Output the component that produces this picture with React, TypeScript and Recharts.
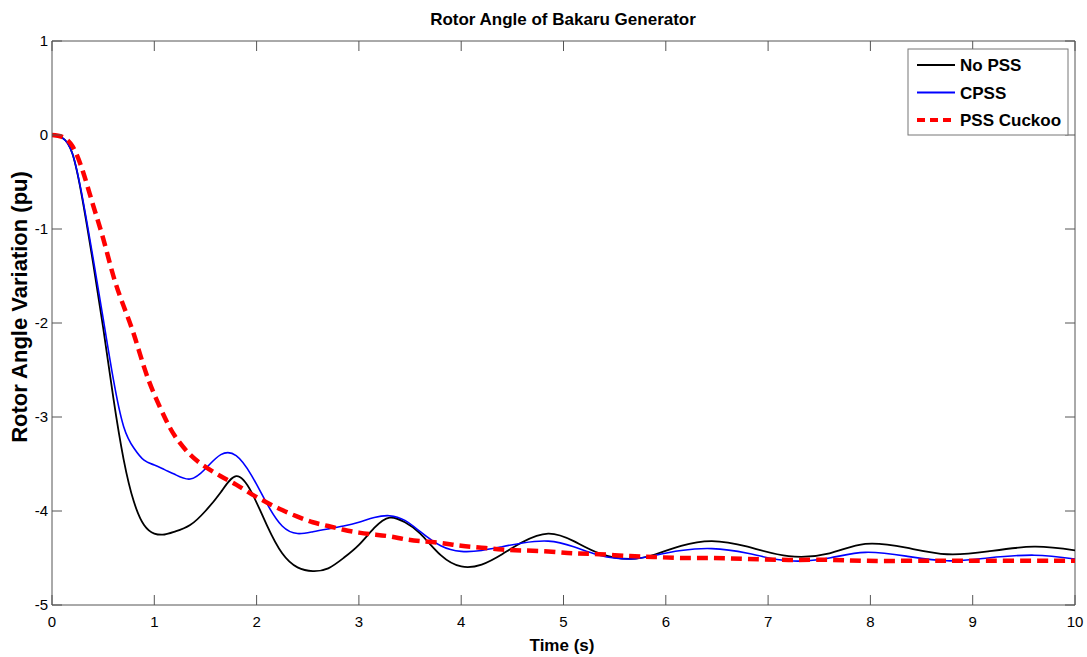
import { LineChart, Line, XAxis, YAxis, ReferenceLine } from 'recharts';

const TIME = [
  0, 0.1, 0.2, 0.3, 0.4, 0.5, 0.6, 0.7, 0.8, 0.9, 1.0, 1.1, 1.2, 1.35, 1.5, 1.65, 1.8, 1.95, 2.1, 2.25,
  2.4, 2.55, 2.7, 2.85, 3.0, 3.15, 3.3, 3.45, 3.6, 3.8, 4.0, 4.2, 4.4, 4.6, 4.85, 5.1, 5.35, 5.65, 5.9, 6.15,
  6.45, 6.8, 7.2, 7.6, 7.95, 8.35, 8.75, 9.15, 9.6, 10,
];

const NO_PSS = [
  0, -0.03, -0.2, -0.7, -1.35, -2.05, -2.8, -3.45, -3.9, -4.15, -4.24, -4.25, -4.22, -4.15, -4.0, -3.8, -3.63, -3.8, -4.15, -4.45,
  -4.6, -4.64, -4.61, -4.5, -4.36, -4.18, -4.07, -4.12, -4.24, -4.47, -4.59, -4.57, -4.46, -4.33, -4.24, -4.32, -4.45, -4.51, -4.46, -4.37,
  -4.32, -4.38, -4.48, -4.45, -4.35, -4.39, -4.46, -4.43, -4.38, -4.42,
];

const CPSS = [
  0, -0.03, -0.2, -0.68, -1.3, -1.95, -2.6, -3.1, -3.33, -3.46, -3.51, -3.56, -3.61, -3.66, -3.55, -3.4, -3.41, -3.62, -3.92, -4.16,
  -4.24, -4.22, -4.19, -4.16, -4.12, -4.07, -4.05, -4.1, -4.22, -4.37, -4.43, -4.42, -4.38, -4.34, -4.32, -4.38, -4.47, -4.51, -4.47, -4.42,
  -4.4, -4.45, -4.53, -4.5, -4.44, -4.48, -4.53, -4.5, -4.47, -4.51,
];

const PSS_CUCKOO = [
  0, -0.02, -0.12, -0.38, -0.74, -1.1, -1.5, -1.82, -2.12, -2.47, -2.76, -3.0, -3.2, -3.4, -3.53, -3.63, -3.72, -3.82, -3.91, -3.99,
  -4.06, -4.12, -4.16, -4.2, -4.23, -4.25, -4.27, -4.3, -4.32, -4.34, -4.37, -4.39, -4.41, -4.42, -4.43, -4.45, -4.46, -4.48, -4.49, -4.5,
  -4.5, -4.51, -4.52, -4.52, -4.53, -4.53, -4.53, -4.53, -4.53, -4.53,
];

const X_TICKS = [0, 1, 2, 3, 4, 5, 6, 7, 8, 9, 10];
const Y_TICKS = [-5, -4, -3, -2, -1, 0, 1];

const SERIES = [
  { key: 'noPss', name: 'No PSS', color: '#000000', width: 1.8, dash: undefined as string | undefined },
  { key: 'cpss', name: 'CPSS', color: '#0000ff', width: 1.6, dash: undefined as string | undefined },
  { key: 'cuckoo', name: 'PSS Cuckoo', color: '#ff0000', width: 4.5, dash: '11 6' },
];

const data = TIME.map((t, i) => ({ t, noPss: NO_PSS[i], cpss: CPSS[i], cuckoo: PSS_CUCKOO[i] }));

const W = 1087;
const H = 657;
const LEFT = 52;
const RIGHT = 1075;
const TOP = 41;
const BOTTOM = 605;
const AXIS = '#555555';
const FONT = '"Liberation Sans", Arial, sans-serif';

function XTick(props: any) {
  const { x, payload } = props;
  return (
    <g>
      <line x1={x} x2={x} y1={BOTTOM} y2={BOTTOM - 10} stroke={AXIS} />
      <line x1={x} x2={x} y1={TOP} y2={TOP + 10} stroke={AXIS} />
      <text x={x} y={BOTTOM + 22} textAnchor="middle" fontSize={15} fontFamily={FONT} fill="#000">
        {payload.value}
      </text>
    </g>
  );
}

function YTick(props: any) {
  const { y, payload } = props;
  return (
    <g>
      <line x1={LEFT} x2={LEFT + 10} y1={y} y2={y} stroke={AXIS} />
      <line x1={RIGHT} x2={RIGHT - 10} y1={y} y2={y} stroke={AXIS} />
      <text x={LEFT - 4} y={y + 5} textAnchor="end" fontSize={15} fontFamily={FONT} fill="#000">
        {payload.value}
      </text>
    </g>
  );
}

export default function App() {
  return (
    <div style={{ position: 'absolute', left: 0, top: 0, width: W, height: H, background: '#fff' }}>
      <LineChart width={W} height={H} data={data} margin={{ top: TOP, right: W - RIGHT, bottom: 0, left: 0 }}>
        <XAxis
          dataKey="t"
          type="number"
          domain={[0, 10]}
          ticks={X_TICKS}
          tick={<XTick />}
          tickLine={false}
          axisLine={{ stroke: AXIS }}
          height={H - BOTTOM}
          allowDataOverflow
        />
        <YAxis
          type="number"
          domain={[-5, 1]}
          ticks={Y_TICKS}
          tick={<YTick />}
          tickLine={false}
          axisLine={{ stroke: AXIS }}
          width={LEFT}
          allowDataOverflow
        />
        <ReferenceLine y={1} stroke={AXIS} />
        <ReferenceLine x={10} stroke={AXIS} />
        {SERIES.map((s) => (
          <Line
            key={s.key}
            dataKey={s.key}
            name={s.name}
            type="natural"
            stroke={s.color}
            strokeWidth={s.width}
            strokeDasharray={s.dash}
            dot={false}
            activeDot={false}
            isAnimationActive={false}
          />
        ))}
      </LineChart>
      <svg
        width={W}
        height={H}
        style={{ position: 'absolute', left: 0, top: 0, pointerEvents: 'none' }}
        fontFamily={FONT}
      >
        <text x={563} y={25} textAnchor="middle" fontSize={17} fontWeight="bold">
          Rotor Angle of Bakaru Generator
        </text>
        <text x={562} y={651} textAnchor="middle" fontSize={17} fontWeight="bold">
          Time (s)
        </text>
        <text
          x={0}
          y={0}
          transform="translate(27 307) rotate(-90)"
          textAnchor="middle"
          fontSize={22}
          fontWeight="bold"
        >
          Rotor Angle Variation (pu)
        </text>
        <rect x={908} y={49} width={160} height={86} fill="#fff" stroke="#777" />
        {SERIES.map((s, i) => (
          <g key={s.key}>
            <line
              x1={917}
              x2={955}
              y1={65 + i * 27.5}
              y2={65 + i * 27.5}
              stroke={s.color}
              strokeWidth={s.dash ? 4 : 2}
              strokeDasharray={s.dash ? '8 5' : undefined}
            />
            <text x={960} y={65 + i * 27.5 + 6} fontSize={17} fontWeight="bold">
              {s.name}
            </text>
          </g>
        ))}
      </svg>
    </div>
  );
}
